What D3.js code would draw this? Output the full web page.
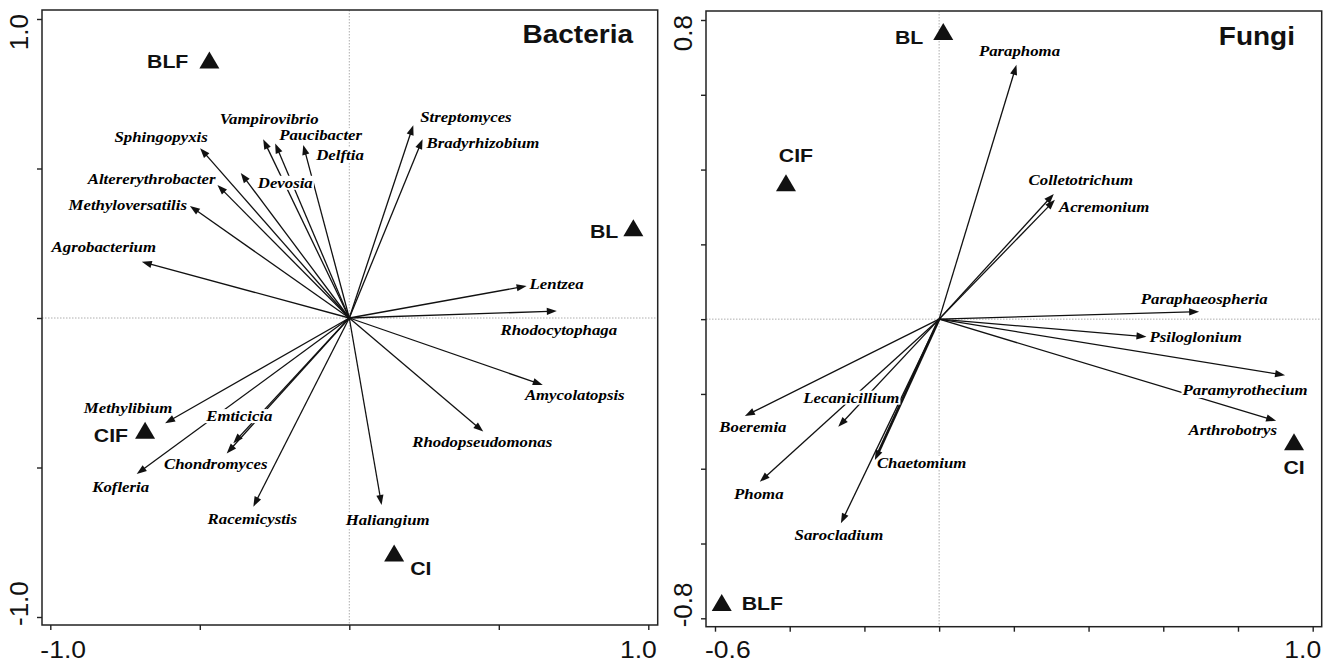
<!DOCTYPE html>
<html>
<head>
<meta charset="utf-8">
<script src="https://cdn.jsdelivr.net/npm/d3@7"></script>
<style>
  body { margin: 0; background: #fff; }
  .genus { font-family: "Liberation Serif", "Times New Roman", serif; font-weight: bold; font-style: italic; font-size: 15px; fill: #000; }
  .site { font-family: "Liberation Sans", Arial, sans-serif; font-weight: bold; font-size: 19px; fill: #111; }
  .title { font-family: "Liberation Sans", Arial, sans-serif; font-weight: bold; font-size: 25px; fill: #111; }
  .tick-label { font-family: "Liberation Sans", Arial, sans-serif; font-size: 23.7px; fill: #111; }
  .tick-label-y { font-family: "Liberation Sans", Arial, sans-serif; font-size: 26px; fill: #111; }
</style>
</head>
<body>
<svg id="chart" width="1332" height="664"></svg>
<script>
// ---- Bacteria data (axis 1 / axis 2 scores)
const bacGenera = ["Agrobacterium", "Methyloversatilis", "Altererythrobacter", "Sphingopyxis",
  "Vampirovibrio", "Paucibacter", "Delftia", "Devosia", "Streptomyces", "Bradyrhizobium",
  "Lentzea", "Rhodocytophaga", "Amycolatopsis", "Rhodopseudomonas", "Haliangium",
  "Methylibium", "Kofleria", "Emticicia", "Chondromyces", "Racemicystis"];
const bacAxis1 = [-0.694, -0.533, -0.441, -0.499, -0.288, -0.248, -0.154, -0.363, 0.214, 0.245,
  0.593, 0.694, 0.647, 0.448, 0.108, -0.616, -0.711, -0.388, -0.410, -0.321];
const bacAxis2 = [0.188, 0.375, 0.445, 0.568, 0.598, 0.584, 0.579, 0.485, 0.645, 0.598,
  0.107, 0.023, -0.224, -0.380, -0.625, -0.352, -0.522, -0.419, -0.453, -0.631];
const bacSites = ["BLF", "BL", "CIF", "CI"];
const bacSiteAxis1 = [-0.468, 0.950, -0.683, 0.150];
const bacSiteAxis2 = [0.863, 0.302, -0.375, -0.786];
const bacTicks = [-1, -0.5, 0, 0.5, 1];

// ---- Fungi data
const funGenera = ["Paraphoma", "Colletotrichum", "Acremonium", "Paraphaeospheria", "Psiloglonium",
  "Paramyrothecium", "Arthrobotrys", "Boeremia", "Phoma", "Lecanicillium", "Chaetomium", "Sarocladium"];
const funAxis1 = [0.207, 0.307, 0.310, 0.696, 0.555, 0.926, 0.902, -0.520, -0.480, -0.270, -0.172, -0.263];
const funAxis2 = [0.680, 0.335, 0.319, 0.020, -0.047, -0.150, -0.272, -0.259, -0.435, -0.288, -0.377, -0.546];
const funSites = ["BL", "CIF", "BLF", "CI"];
const funSiteAxis1 = [0.011, -0.410, -0.582, 0.950];
const funSiteAxis2 = [0.769, 0.365, -0.758, -0.328];
const funTicks = [-0.6, -0.4, -0.2, 0, 0.2, 0.4, 0.6, 0.8, 1.0];
const funYTicks = [-0.8, -0.6, -0.4, -0.2, 0, 0.2, 0.4, 0.6, 0.8];

// label placement relative to arrow tip / triangle (px): [dx, dy, anchor]
const labelPlace = {
  Agrobacterium: [-38, -10, "middle"], Methyloversatilis: [-3, 4, "end"],
  Altererythrobacter: [-2, -1, "end"], Sphingopyxis: [-39, -6, "middle"],
  Vampirovibrio: [6, -15, "middle"], Paucibacter: [4, -3, "start"],
  Delftia: [13, 15, "start"], Devosia: [17, 15, "start"],
  Streptomyces: [7, -3, "start"], Bradyrhizobium: [4, 9, "start"],
  Lentzea: [3, 3, "start"], Rhodocytophaga: [2, 24, "middle"],
  Amycolatopsis: [32, 15, "middle"], Rhodopseudomonas: [-1, 15, "middle"],
  Haliangium: [6, 20, "middle"], Methylibium: [-37, -10, "middle"],
  Kofleria: [-16, 18, "middle"], Emticicia: [6, -22, "middle"],
  Chondromyces: [-11, 16, "middle"], Racemicystis: [-1, 17, "middle"],
  Paraphoma: [3, -9, "middle"], Colletotrichum: [27, -9, "middle"],
  Acremonium: [4, 12, "start"], Paraphaeospheria: [5, -8, "middle"],
  Psiloglonium: [3, 5, "start"], Paramyrothecium: [-40, 20, "middle"],
  Arthrobotrys: [1, 14, "end"], Boeremia: [8, 16, "middle"],
  Phoma: [-1, 17, "middle"], Lecanicillium: [13, -24, "middle"],
  Chaetomium: [2, 8, "start"], Sarocladium: [-2, 17, "middle"]
};
const bacSitePlace = { BLF: [-21, 8, "end"], BL: [-15, 10, "end"], CIF: [-17, 12, "end"], CI: [16, 22, "start"] };
const funSitePlace = { BL: [-20, 12, "end"], CIF: [10, -21, "middle"], BLF: [20, 7, "start"], CI: [0, 32, "middle"] };
const heavyArrows = ["Chaetomium"];

const SX = 1.12; // horizontal stretch of the original figure's lettering
const svg = d3.select("#chart");
const fmt = v => d3.format(".1f")(v).replace("\u2212", "-");

function stretchText(parent, x, y, str, anchor, cls, box) {
  const g = parent.append("g").attr("transform", `translate(${x},${y}) scale(${SX},1)`);
  const rect = box ? g.append("rect").attr("fill", "#fff") : null;
  const t = g.append("text").attr("class", cls).attr("text-anchor", anchor).text(str);
  if (rect) {
    const b = t.node().getBBox();
    rect.attr("x", b.x - 1).attr("y", b.y + 1).attr("width", b.width + 2).attr("height", b.height - 2);
  }
  return g;
}

function drawPanel(cfg) {
  const x = d3.scaleLinear().domain(cfg.xDom).range(cfg.xRange);
  const y = d3.scaleLinear().domain(cfg.yDom).range(cfg.yRange);
  const f = cfg.frame;
  const g = svg.append("g");

  // zero reference lines
  g.append("line").attr("x1", x(0)).attr("x2", x(0)).attr("y1", f.y0).attr("y2", f.y1)
    .attr("stroke", "#999").attr("stroke-width", 0.8).attr("stroke-dasharray", "1.5,1.5");
  g.append("line").attr("x1", f.x0).attr("x2", f.x1).attr("y1", y(0)).attr("y2", y(0))
    .attr("stroke", "#999").attr("stroke-width", 0.8).attr("stroke-dasharray", "1.5,1.5");

  // arrows
  const arrows = cfg.genera.map((name, i) => {
    const tx = x(cfg.ax1[i]), ty = y(cfg.ax2[i]);
    const ox = x(0), oy = y(0);
    const len = Math.hypot(tx - ox, ty - oy);
    const ux = (tx - ox) / len, uy = (ty - oy) / len;
    return { name, tx, ty, ox, oy, ux, uy };
  });
  const headL = 10, headW = 3.6;
  g.selectAll(".arrow-line").data(arrows).join("line")
    .attr("x1", d => d.ox).attr("y1", d => d.oy)
    .attr("x2", d => d.tx - d.ux * headL * 0.8).attr("y2", d => d.ty - d.uy * headL * 0.8)
    .attr("stroke", "#111")
    .attr("stroke-width", d => heavyArrows.includes(d.name) ? 2.6 : 1.3);

  // genus labels (white boxes mask lines behind them)
  arrows.forEach(d => {
    const p = labelPlace[d.name];
    stretchText(g, d.tx + p[0], d.ty + p[1], d.name, p[2], "genus", true);
  });

  g.selectAll(".arrow-head").data(arrows).join("path")
    .attr("d", d => {
      const bx = d.tx - d.ux * headL, by = d.ty - d.uy * headL;
      return `M${d.tx},${d.ty}L${bx - d.uy * headW},${by + d.ux * headW}L${bx + d.uy * headW},${by - d.ux * headW}Z`;
    })
    .attr("fill", "#111");

  // sites
  cfg.sites.forEach((s, i) => {
    const sx = x(cfg.sx1[i]), sy = y(cfg.sx2[i]);
    g.append("path").attr("d", `M${sx},${sy - 8.5}L${sx + 10},${sy + 8.5}L${sx - 10},${sy + 8.5}Z`)
      .attr("fill", "#111");
    const p = cfg.sitePlace[s];
    stretchText(g, sx + p[0], sy + p[1], s, p[2], "site", false);
  });

  // frame
  g.append("rect").attr("x", f.x0).attr("y", f.y0).attr("width", f.x1 - f.x0).attr("height", f.y1 - f.y0)
    .attr("fill", "none").attr("stroke", "#222").attr("stroke-width", 1.5);

  // axes (ticks only)
  const ax = g.append("g").attr("transform", `translate(0,${f.y1})`)
    .call(d3.axisBottom(x).tickValues(cfg.xTicks).tickSize(5).tickFormat(""));
  const ay = g.append("g").attr("transform", `translate(${f.x0},0)`)
    .call(d3.axisLeft(y).tickValues(cfg.yTicks).tickSize(5).tickFormat(""));
  [ax, ay].forEach(a => {
    a.select(".domain").remove();
    a.selectAll(".tick line").attr("stroke", "#222").attr("stroke-width", 1.4);
  });

  // end tick labels
  const xt = cfg.xTicks, yt = cfg.yTicks;
  stretchText(g, x(xt[0]) - 10, 658, fmt(xt[0]), "start", "tick-label", false);
  stretchText(g, x(xt[xt.length - 1]) + 8.5, 658, fmt(xt[xt.length - 1]), "end", "tick-label", false);
  g.append("text").attr("class", "tick-label-y").attr("text-anchor", "end")
    .attr("transform", `translate(${cfg.yLabelX},${y(yt[yt.length - 1]) - 5}) rotate(-90)`)
    .text(fmt(yt[yt.length - 1]));
  g.append("text").attr("class", "tick-label-y").attr("text-anchor", "start")
    .attr("transform", `translate(${cfg.yLabelX},${y(yt[0]) + 9}) rotate(-90)`)
    .text(fmt(yt[0]));

  // title
  stretchText(g, cfg.titleX, cfg.titleY, cfg.title, "end", "title", false);
}

drawPanel({
  title: "Bacteria", titleX: 633, titleY: 43,
  genera: bacGenera, ax1: bacAxis1, ax2: bacAxis2,
  sites: bacSites, sx1: bacSiteAxis1, sx2: bacSiteAxis2, sitePlace: bacSitePlace,
  xTicks: bacTicks, yTicks: bacTicks,
  xDom: [-1, 1], xRange: [50.3, 648.3], yDom: [-1, 1], yRange: [617, 19],
  frame: { x0: 42, x1: 657.7, y0: 10, y1: 625 }, yLabelX: 28
});

drawPanel({
  title: "Fungi", titleX: 1295, titleY: 45,
  genera: funGenera, ax1: funAxis1, ax2: funAxis2,
  sites: funSites, sx1: funSiteAxis1, sx2: funSiteAxis2, sitePlace: funSitePlace,
  xTicks: funTicks, yTicks: funYTicks,
  xDom: [-0.6, 1.0], xRange: [715, 1312.7], yDom: [-0.8, 0.8], yRange: [618.3, 20],
  frame: { x0: 706, x1: 1321.7, y0: 11, y1: 626.7 }, yLabelX: 692
});
</script>
</body>
</html>
